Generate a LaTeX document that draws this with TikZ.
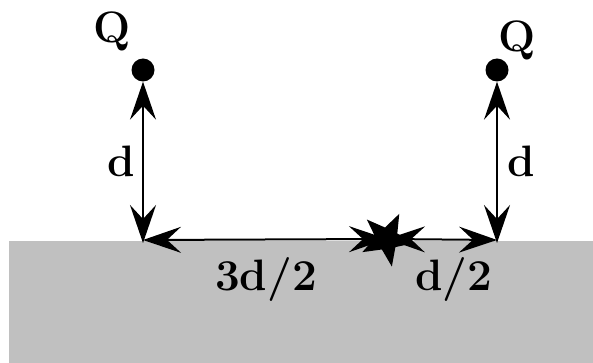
\documentclass[tikz,border=0pt]{standalone}
\usetikzlibrary{arrows.meta,shapes.geometric}
\definecolor{ground}{RGB}{192,192,192}
\begin{document}
\begin{tikzpicture}[x=1pt,y=-1pt,
  lbl/.style={anchor=base,inner sep=0pt,font=\fontsize{44}{50}\selectfont\bfseries},
  charge/.style={circle,fill=black,minimum size=23pt,inner sep=0pt},
  dim/.style={line width=2pt,{Stealth[length=38pt,width=26pt,inset=14pt]}-{Stealth[length=38pt,width=26pt,inset=14pt]}},
  mark star/.style={star,star points=5,star point ratio=2.4,minimum size=56pt,inner sep=0pt,fill=black,rotate=-26}]
\useasboundingbox (0,0) rectangle (593,363);
\fill[ground] (9,241) rectangle (593,363);
\node[charge] (q1) at (143,70) {};
\node[charge] (q2) at (497,70) {};
\coordinate (s1) at (143,240);
\coordinate (s2) at (497,240);
\coordinate (v1) at (143,243);
\coordinate (v2) at (497,243);
\coordinate (pc) at (387,239);
\draw[dim] (q1) -- (v1);
\draw[dim] (q2) -- (v2);
\draw[dim] (s1) -- (pc);
\draw[dim] (pc) -- (s2);
\node[mark star] (p) at (pc) {};
\node[lbl] (lq1) at (112,43) {Q};
\node[lbl] (lq2) at (517,52) {Q};
\node[lbl] (ld1) at (121,177) {d};
\node[lbl] (ld2) at (521,177) {d};
\node[lbl] (l32) at (266,290) {3d/2};
\node[lbl] (l12) at (454,290) {d/2};
\end{tikzpicture}
\end{document}
